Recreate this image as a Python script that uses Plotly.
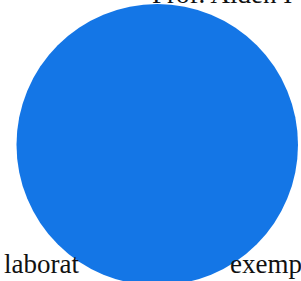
import plotly.graph_objects as go

labels = ["Total"]
values = [100]
colors = ["#1476E6"]

top_text = "Prof. Alden I"
bottom_left_text = "laborat"
bottom_right_text = "exemp"

W, H = 301, 290

fig = go.Figure(go.Pie(
    labels=labels, values=values, marker=dict(colors=colors, line=dict(width=0)),
    textinfo="none", hoverinfo="label+percent", sort=False,
    domain=dict(x=[16.5 / W, 298 / W], y=[1 - 285.5 / H, 1 - 4 / H]),
    showlegend=False,
))

font = dict(family="Liberation Serif, Times New Roman, serif", size=27, color="#111111")
fig.add_annotation(text=top_text, x=150 / W, y=1 + 6 / H, xref="paper", yref="paper",
                   xanchor="left", yanchor="middle", showarrow=False, font=font)
fig.add_annotation(text=bottom_left_text, x=2 / W, y=1 - 264 / H, xref="paper", yref="paper",
                   xanchor="left", yanchor="middle", showarrow=False, font=font)
fig.add_annotation(text=bottom_right_text, x=228 / W, y=1 - 264 / H, xref="paper", yref="paper",
                   xanchor="left", yanchor="middle", showarrow=False, font=font)

fig.update_layout(width=W, height=H, margin=dict(l=0, r=0, t=0, b=0),
                  paper_bgcolor="white", plot_bgcolor="white")
fig.write_html("out.html", config={"displayModeBar": False},
               post_script="document.body.style.margin='0';")
